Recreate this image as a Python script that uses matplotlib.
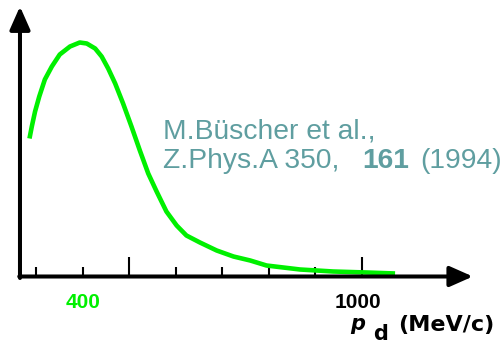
import matplotlib.pyplot as plt

# deuteron momentum spectrum (MeV/c) vs. yield (arbitrary units)
p_d = [286, 291, 298, 307, 319, 334, 351, 373, 394, 409, 427, 441, 455, 470,
       487, 505, 523, 541, 559, 580, 602, 623, 652, 688, 724, 760, 795, 831,
       867, 903, 938, 1010, 1071]
yield_d = [138, 150, 165, 180, 197, 210, 222, 230, 234, 233, 228, 220, 208, 193,
           173, 150, 126, 103, 85, 65, 51, 41, 34, 26, 20, 16, 11, 9,
           7, 6, 5, 4, 3]

minor_ticks = [300, 400, 600, 700, 800, 900]
major_ticks = [500, 1000]

GREEN = '#00f000'
TEAL = '#5f9ea0'

fig = plt.figure(figsize=(5.04, 3.44), dpi=100)
ax = fig.add_axes([0, 0, 1, 1])
ax.set_xlim(222.7, 1304.9)
ax.set_ylim(-67.5, 276.5)
ax.axis('off')

# hand-drawn style axes with arrow heads
arrow = dict(arrowstyle='-|>,head_length=1.4,head_width=0.62', mutation_scale=10,
             lw=2.9, color='black', shrinkA=0, shrinkB=0)
ax.annotate('', xy=(265.6, 270), xytext=(265.6, -1.5), arrowprops=arrow)
ax.annotate('', xy=(1238, 0), xytext=(264, 0), arrowprops=arrow)

ax.vlines(minor_ticks, 0, 10, color='black', lw=1.5)
ax.vlines(major_ticks, 0, 20, color='black', lw=1.5)

ax.plot(p_d, yield_d, color=GREEN, lw=3.3, solid_capstyle='butt',
        solid_joinstyle='round')

tick_font = dict(family='Liberation Sans', weight='bold', fontsize=15)
ax.text(402, -26.5, '400', color=GREEN, ha='center', va='center', **tick_font)
ax.text(992, -26.5, '1000', color='black', ha='center', va='center', **tick_font)

ax.text(974, -53.5, 'p', style='italic', family='DejaVu Sans', fontsize=15,
        weight='bold', va='baseline')
ax.text(1023, -63.5, 'd', family='DejaVu Sans', fontsize=15, weight='bold',
        va='baseline')
ax.text(1077, -54.5, '(MeV/c)', family='DejaVu Sans', fontsize=16,
        weight='bold', va='baseline')

cite = dict(family='Liberation Sans', fontsize=20.3, color=TEAL, va='baseline')
ax.text(572.7, 138.5, 'M.Büscher et al.,', **cite)
ax.text(572.7, 108.5, 'Z.Phys.A 350,', **cite)
ax.text(1000, 108.5, '161', weight='bold', **cite)
ax.text(1126, 108.5, '(1994)', **cite)

fig.savefig('out.png', dpi=100)
